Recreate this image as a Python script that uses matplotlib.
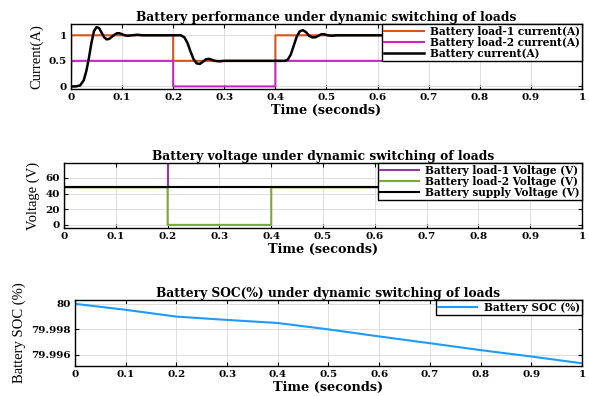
import numpy as np
import matplotlib
matplotlib.use("Agg")
import matplotlib.pyplot as plt

plt.rcParams['font.family'] = ['DejaVu Serif']
plt.rcParams['font.weight'] = 'bold'

# ---- data ----
xticks = [0, 0.1, 0.2, 0.3, 0.4, 0.5, 0.6, 0.7, 0.8, 0.9, 1.0]
xticklabels = ['0', '0.1', '0.2', '0.3', '0.4', '0.5', '0.6', '0.7', '0.8', '0.9', '1']

t_load1_i = [0, 0.0005, 0.2, 0.2, 0.4, 0.4, 1.0]
load1_i = [0.13, 1.0, 1.0, 0.5, 0.5, 1.0, 1.0]
t_load2_i = [0, 0.0005, 0.2, 0.2, 0.4, 0.4, 1.0]
load2_i = [0.13, 0.5, 0.5, 0.0, 0.0, 0.5, 0.5]

t_bat_i = [0, 0.01, 0.018, 0.025, 0.03, 0.035, 0.04, 0.045, 0.05, 0.055,
           0.06, 0.065, 0.07, 0.075, 0.08, 0.085, 0.09, 0.095, 0.1, 0.105,
           0.11, 0.12, 0.13, 0.14, 0.15, 0.2, 0.215, 0.222, 0.228, 0.234,
           0.24, 0.246, 0.252, 0.258, 0.264, 0.27, 0.276, 0.282, 0.29, 0.3,
           0.31, 0.4, 0.418, 0.424, 0.43, 0.436, 0.442, 0.448, 0.454, 0.46,
           0.466, 0.472, 0.478, 0.484, 0.49, 0.496, 0.502, 0.51, 0.52, 0.53,
           1.0]
bat_i = [0, 0.0, 0.02, 0.12, 0.3, 0.55, 0.85, 1.08, 1.16, 1.14,
         1.05, 0.96, 0.92, 0.93, 0.97, 1.01, 1.04, 1.04, 1.02, 1.0,
         0.99, 1.0, 1.01, 1.0, 1.0, 1.0, 1.0, 0.96, 0.85, 0.68,
         0.53, 0.45, 0.44, 0.48, 0.53, 0.54, 0.52, 0.5, 0.49, 0.5,
         0.5, 0.5, 0.5, 0.52, 0.62, 0.8, 0.98, 1.08, 1.1, 1.06,
         0.99, 0.96, 0.96, 0.99, 1.02, 1.02, 1.0, 0.99, 1.0, 1.0,
         1.0]

t_load1_v = [0, 0.2, 0.2, 0.2, 1.0]
load1_v = [48, 48, 90, 48, 48]
t_load2_v = [0, 0.0005, 0.2, 0.2, 0.4, 0.4, 1.0]
load2_v = [10, 48, 48, 0, 0, 48, 48]
t_sup_v = [0, 1.0]
sup_v = [48, 48]

t_soc = [0, 0.1, 0.2, 0.3, 0.4, 0.5, 0.6, 0.7, 0.8, 0.9, 1.0]
soc = [80.0, 79.99953, 79.99900, 79.99874, 79.99850, 79.99800,
       79.99745, 79.99692, 79.99638, 79.99588, 79.99535]

orange = '#D95319'
magenta = '#CC22CC'
purple = '#8E3C9E'
green = '#77AC30'
blue = '#1E9BFF'

ylab_font = {'family': 'Liberation Serif', 'weight': 'normal', 'size': 10.5}

fig = plt.figure(figsize=(5.89, 3.96), dpi=100)

def style(ax):
    ax.set_xlim(0, 1)
    ax.set_xticks(xticks)
    ax.set_xticklabels(xticklabels)
    ax.grid(True, color='#dddddd', linewidth=0.7)
    ax.set_axisbelow(True)
    ax.tick_params(direction='in', top=True, right=True, length=3,
                   labelsize=7.5, pad=3)
    for s in ax.spines.values():
        s.set_linewidth(1.0)
    ax.set_xlabel('Time (seconds)', fontsize=9.3, fontweight='bold', labelpad=1)

def add_legend(ax):
    ax.legend(loc='upper right', fontsize=7.6, handlelength=3.7, borderpad=0.2,
              labelspacing=0.0, handletextpad=0.6, borderaxespad=0,
              fancybox=False, edgecolor='black', framealpha=1)

# current
ax1 = fig.add_axes([0.1205, 0.7753, 0.8676, 0.164])
ax1.plot(t_load1_i, load1_i, color=orange, lw=1.5, label='Battery load-1 current(A)')
ax1.plot(t_load2_i, load2_i, color=magenta, lw=1.5, label='Battery load-2 current(A)')
ax1.plot(t_bat_i, bat_i, color='black', lw=1.8, label='Battery current(A)')
ax1.set_ylim(-0.05, 1.22)
ax1.set_yticks([0, 0.5, 1])
ax1.set_yticklabels(['0', '0.5', '1'])
style(ax1)
ax1.set_ylabel('Current(A)', fontdict=ylab_font, labelpad=4)
ax1.set_title('Battery performance under dynamic switching of loads',
              fontsize=8.8, fontweight='bold', pad=2)
add_legend(ax1)

# voltage
ax2 = fig.add_axes([0.1087, 0.4242, 0.8795, 0.1641])
ax2.plot(t_load1_v, load1_v, color=purple, lw=1.5, label='Battery load-1 Voltage (V)')
ax2.plot(t_load2_v, load2_v, color=green, lw=1.5, label='Battery load-2 Voltage (V)')
ax2.plot(t_sup_v, sup_v, color='black', lw=1.5, label='Battery supply Voltage (V)')
ax2.set_ylim(-4, 79)
ax2.set_yticks([0, 20, 40, 60])
style(ax2)
ax2.set_ylabel('Voltage (V)', fontdict=ylab_font, labelpad=4)
ax2.set_title('Battery voltage under dynamic switching of loads',
              fontsize=8.8, fontweight='bold', pad=2)
add_legend(ax2)

# SOC
ax3 = fig.add_axes([0.1273, 0.0758, 0.8608, 0.1667])
ax3.plot(t_soc, soc, color=blue, lw=1.5, label='Battery SOC (%)')
ax3.set_ylim(79.99514, 80.0003)
ax3.set_yticks([79.996, 79.998, 80.0])
ax3.set_yticklabels(['79.996', '79.998', '80'])
style(ax3)
ax3.set_ylabel('Battery SOC (%)', fontdict=ylab_font, labelpad=4)
ax3.set_title('Battery SOC(%) under dynamic switching of loads',
              fontsize=8.8, fontweight='bold', pad=2)
add_legend(ax3)

fig.savefig('out.png', dpi=100)
